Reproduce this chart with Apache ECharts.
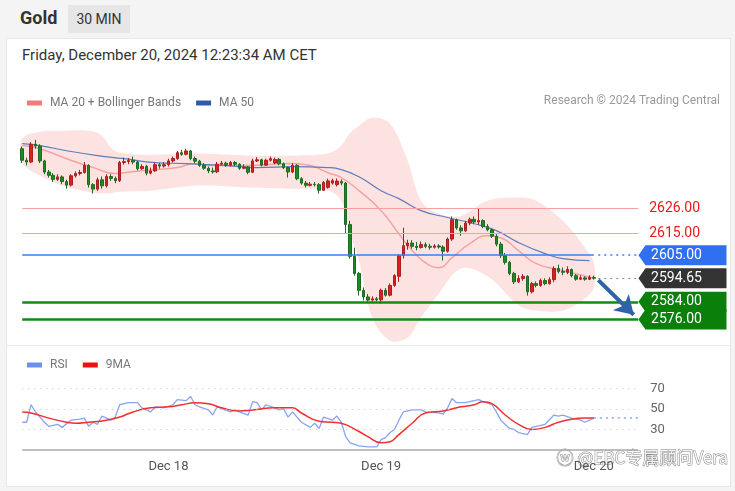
<!DOCTYPE html>
<html>
<head>
<meta charset="utf-8">
<script src="https://cdn.jsdelivr.net/npm/echarts@6.0.0/dist/echarts.min.js"></script>
<style>
body { margin: 0; background: #f4f4f4; font-family: Roboto, "Liberation Sans", sans-serif; }
#wrap { position: relative; width: 735px; height: 491px; overflow: hidden; }
.title { position: absolute; left: 20px; top: 7px; font-size: 18px; font-weight: bold; color: #333; }
.tf { position: absolute; left: 68px; top: 5px; width: 62px; height: 28px; line-height: 28px; text-align: center; background: #e6e6e6; font-size: 14px; color: #333; }
.card { position: absolute; left: 6px; top: 38px; width: 723px; height: 447px; background: #fff; border: 1px solid #e8e8e8; }
.date { position: absolute; left: 22px; top: 46px; font-size: 15px; color: #333; }
.sep { position: absolute; left: 7px; top: 345px; width: 723px; height: 1px; background: #eaeaea; }
#chart { position: absolute; left: 0; top: 0; width: 735px; height: 491px; }
</style>
</head>
<body>
<div id="wrap">
  <div class="title">Gold</div>
  <div class="tf">30 MIN</div>
  <div class="card"></div>
  <div class="date">Friday, December 20, 2024 12:23:34 AM CET</div>
  <div class="sep"></div>
  <div id="chart"></div>
</div>
<script>
// 30 min candles, Dec 17 07:30 .. Dec 20 00:00, plus empty room on the right
const categories = Array.from({ length: 160 }, (_, i) => i)
const tickIdx = [33, 81, 129]
const tickText = ['Dec 18', 'Dec 19', 'Dec 20']

const opens = [
  2653.0, 2647.8, 2647.0, 2655.0, 2654.2, 2647.5, 2642.5, 2641.0, 2639.2, 2640.3,
  2638.2, 2636.6, 2640.8, 2641.8, 2642.3, 2645.5, 2636.8, 2634.8, 2639.0, 2636.3,
  2640.5, 2639.6, 2638.6, 2646.8, 2647.2, 2647.8, 2647.0, 2644.0, 2645.0, 2642.0,
  2643.0, 2645.8, 2645.2, 2645.8, 2647.5, 2648.6, 2651.2, 2650.5, 2652.0, 2648.6,
  2647.4, 2645.5, 2644.2, 2643.0, 2642.6, 2646.0, 2646.5, 2645.6, 2646.8, 2646.0,
  2644.2, 2644.8, 2642.4, 2647.5, 2648.0, 2645.6, 2647.8, 2646.6, 2648.2, 2646.2,
  2644.5, 2642.5, 2645.5, 2639.5, 2637.5, 2636.5, 2637.0, 2636.8, 2634.3, 2635.6,
  2637.5, 2636.8, 2638.2, 2637.5, 2618.8, 2604.5, 2596.8, 2589.2, 2586.2, 2584.8,
  2585.4, 2584.9, 2589.2, 2587.0, 2591.4, 2595.5, 2604.8, 2609.3, 2610.5, 2609.0,
  2608.5, 2609.8, 2609.0, 2608.6, 2609.2, 2608.7, 2606.8, 2612.3, 2621.0, 2617.3,
  2616.0, 2619.5, 2621.2, 2620.0, 2620.6, 2618.0, 2616.5, 2613.6, 2610.0, 2604.8,
  2601.8, 2596.8, 2593.0, 2594.5, 2595.5, 2588.5, 2592.2, 2591.4, 2593.6, 2592.2,
  2594.0, 2599.0, 2597.7, 2597.3, 2598.6, 2595.8, 2594.2, 2594.8, 2594.2, 2595.0
]
const closes = [
  2647.8, 2647.0, 2655.0, 2654.2, 2647.5, 2642.5, 2641.0, 2639.2, 2640.3, 2638.2,
  2636.6, 2640.8, 2641.8, 2642.3, 2645.5, 2636.8, 2634.8, 2639.0, 2636.3, 2640.5,
  2639.6, 2638.6, 2646.8, 2647.2, 2647.8, 2647.0, 2644.0, 2645.0, 2642.0, 2643.0,
  2645.8, 2645.2, 2645.8, 2647.5, 2648.6, 2651.2, 2650.5, 2652.0, 2648.6, 2647.4,
  2645.5, 2644.2, 2643.0, 2642.6, 2646.0, 2646.5, 2645.6, 2646.8, 2646.0, 2644.2,
  2644.8, 2642.4, 2647.5, 2648.0, 2645.6, 2647.8, 2648.5, 2648.2, 2646.2, 2644.5,
  2642.5, 2645.5, 2639.5, 2637.5, 2636.5, 2637.0, 2636.8, 2634.3, 2637.8, 2638.5,
  2638.6, 2638.4, 2637.5, 2618.8, 2604.5, 2596.8, 2589.2, 2586.2, 2584.8, 2585.4,
  2584.9, 2589.2, 2587.0, 2591.4, 2595.8, 2604.8, 2609.3, 2610.5, 2609.0, 2608.5,
  2609.8, 2609.0, 2608.6, 2609.2, 2608.7, 2606.8, 2612.3, 2621.0, 2617.3, 2616.0,
  2619.5, 2621.2, 2620.0, 2620.6, 2618.0, 2616.5, 2613.6, 2610.0, 2604.8, 2601.8,
  2596.8, 2593.0, 2594.5, 2595.5, 2588.5, 2592.2, 2591.4, 2593.6, 2592.2, 2594.0,
  2599.0, 2597.7, 2597.3, 2598.6, 2595.8, 2594.2, 2594.8, 2594.2, 2595.0, 2594.65
]
const lows = [
  2646.5, 2645.5, 2646.5, 2653.0, 2646.5, 2641.5, 2640.0, 2638.0, 2638.5, 2637.0,
  2635.0, 2636.0, 2640.0, 2641.0, 2641.8, 2635.5, 2632.8, 2634.0, 2635.0, 2635.5,
  2638.5, 2637.5, 2638.0, 2645.8, 2646.0, 2646.0, 2643.2, 2643.5, 2641.0, 2641.5,
  2642.5, 2644.0, 2644.5, 2645.0, 2646.8, 2648.0, 2649.8, 2650.0, 2647.8, 2646.5,
  2644.8, 2643.5, 2642.0, 2641.8, 2642.0, 2645.5, 2644.8, 2645.0, 2645.2, 2643.5,
  2643.8, 2641.5, 2642.0, 2647.0, 2645.0, 2645.2, 2647.2, 2646.0, 2645.5, 2643.8,
  2640.0, 2642.0, 2638.8, 2636.8, 2635.5, 2636.0, 2636.0, 2632.8, 2634.0, 2635.0,
  2636.8, 2636.0, 2636.5, 2614.7, 2603.5, 2595.8, 2586.8, 2584.6, 2583.6, 2584.0,
  2584.2, 2583.2, 2586.4, 2586.5, 2590.8, 2593.0, 2603.5, 2607.5, 2608.0, 2607.2,
  2608.0, 2608.2, 2607.5, 2608.0, 2608.0, 2602.6, 2606.2, 2611.5, 2616.5, 2613.8,
  2615.5, 2618.5, 2619.0, 2618.8, 2617.2, 2615.8, 2612.8, 2609.0, 2603.8, 2600.8,
  2596.0, 2592.0, 2592.5, 2593.5, 2586.8, 2587.8, 2590.5, 2590.8, 2591.5, 2591.8,
  2592.8, 2596.8, 2596.0, 2596.5, 2595.0, 2593.5, 2593.8, 2593.5, 2593.8, 2594.0
]
const highs = [
  2654.0, 2649.0, 2656.0, 2657.0, 2655.0, 2648.0, 2643.5, 2642.0, 2641.5, 2641.0,
  2639.0, 2641.5, 2642.8, 2643.5, 2647.0, 2646.0, 2637.5, 2640.0, 2640.5, 2641.5,
  2641.5, 2640.5, 2647.5, 2649.0, 2648.8, 2649.5, 2647.5, 2646.0, 2645.8, 2644.5,
  2646.8, 2646.5, 2647.0, 2648.5, 2649.5, 2652.0, 2652.5, 2653.0, 2652.5, 2649.5,
  2648.0, 2646.5, 2645.0, 2644.5, 2647.0, 2647.5, 2647.2, 2647.5, 2647.5, 2646.5,
  2646.0, 2645.2, 2648.5, 2649.2, 2648.5, 2648.5, 2649.5, 2649.0, 2648.8, 2646.8,
  2645.0, 2646.5, 2646.0, 2640.2, 2638.5, 2638.0, 2638.0, 2637.5, 2638.5, 2639.5,
  2639.5, 2639.6, 2639.2, 2638.0, 2620.5, 2608.4, 2597.5, 2590.5, 2587.5, 2586.5,
  2586.2, 2590.0, 2590.2, 2592.3, 2596.5, 2605.5, 2617.4, 2612.0, 2611.8, 2611.0,
  2611.2, 2610.8, 2610.2, 2610.0, 2610.0, 2609.5, 2613.0, 2622.5, 2621.5, 2618.5,
  2620.5, 2622.0, 2622.5, 2626.2, 2621.2, 2619.0, 2617.2, 2614.5, 2611.0, 2606.0,
  2602.5, 2597.5, 2596.0, 2596.5, 2596.0, 2593.0, 2593.2, 2594.5, 2594.6, 2595.0,
  2600.0, 2600.8, 2599.5, 2600.0, 2599.0, 2596.5, 2596.0, 2595.5, 2596.0, 2595.8
]

// MA 20, Bollinger Bands and MA 50, read at a few candles
const ma20Idx = [0, 4, 10, 16, 21, 23, 27, 35, 39, 42, 50, 61, 65, 69, 72, 76, 81, 85, 88, 92, 94, 97, 101, 105, 108, 112, 116, 122, 129]
const ma20 = [2654.4, 2653.0, 2648.5, 2644.5, 2641.8, 2642.2, 2643.1, 2644.5, 2646.3, 2645.4, 2645.4, 2646.3, 2645.4, 2642.2, 2640.0, 2634.1, 2625.1, 2614.7, 2607.1, 2600.3, 2599.4, 2603.9, 2610.2, 2613.8, 2612.9, 2607.1, 2601.2, 2598.1, 2594.6]
const bandIdx = [0, 4, 9, 15, 18, 20, 22, 29, 40, 51, 60, 69, 72, 74, 76, 79, 83, 87, 90, 94, 99, 105, 112, 116, 122, 127, 129]
const bandUp = [2657.5, 2660.7, 2661.1, 2661.1, 2658.9, 2653.5, 2651.2, 2650.3, 2650.8, 2649.9, 2649.9, 2650.8, 2654.4, 2660.2, 2663.4, 2667.0, 2664.3, 2647.6, 2629.6, 2623.7, 2622.8, 2629.6, 2631.0, 2629.6, 2620.6, 2608.4, 2601.7]
const bandLow = [2646.7, 2640.9, 2636.4, 2633.5, 2632.8, 2633.0, 2633.6, 2634.1, 2636.4, 2635.5, 2635.0, 2634.1, 2629.6, 2615.0, 2602.6, 2576.9, 2566.5, 2567.9, 2576.9, 2587.7, 2599.0, 2595.5, 2582.5, 2580.1, 2580.1, 2585.5, 2590.4]
const ma50Idx = [0, 4, 10, 17, 23, 30, 37, 46, 53, 61, 69, 72, 76, 81, 85, 90, 96, 102, 107, 112, 118, 122, 128]
const ma50 = [2655.3, 2654.4, 2652.1, 2649.9, 2648.5, 2646.7, 2646.3, 2645.4, 2644.5, 2644.9, 2644.5, 2643.6, 2640.4, 2634.1, 2630.5, 2625.1, 2622.0, 2619.2, 2616.1, 2610.7, 2605.7, 2603.5, 2602.6]

// RSI panel
const rsiIdx = [0, 1, 2, 3, 5, 6, 8, 9, 11, 13, 14, 15, 16, 17, 18, 20, 21, 22, 24, 26, 27, 29, 30, 32, 34, 35, 37, 38, 39, 40, 42, 43, 44, 47, 48, 49, 51, 52, 53, 54, 55, 57, 58, 59, 60, 61, 63, 65, 66, 67, 68, 70, 71, 72, 73, 74, 76, 78, 80, 81, 82, 83, 84, 85, 86, 87, 88, 90, 91, 94, 95, 96, 97, 98, 100, 101, 103, 104, 106, 107, 108, 110, 111, 112, 114, 115, 117, 118, 120, 121, 122, 124, 126, 127, 129]
const rsiVal = [37, 37, 54, 47, 37, 33, 35, 32, 39, 40, 41, 33, 37, 35, 43, 39, 42, 54, 56, 56, 51, 47, 52, 51, 54, 59, 58, 62, 54, 52, 49, 44, 52, 47, 49, 47, 44, 57, 56, 49, 54, 51, 49, 50, 42, 47, 37, 32, 36, 31, 42, 39, 43, 37, 23, 17, 14, 13, 13, 20, 22, 27, 30, 39, 47, 48, 49, 49, 47, 46, 45, 51, 60, 56, 56, 57, 59, 57, 54, 47, 39, 31, 30, 27, 25, 32, 34, 35, 44, 43, 44, 41, 39, 37, 41]
const rsiMaIdx = [0, 2, 6, 10, 12, 15, 19, 22, 25, 29, 33, 36, 39, 42, 45, 49, 52, 57, 61, 63, 67, 70, 72, 76, 78, 81, 83, 85, 88, 91, 95, 99, 102, 104, 106, 109, 112, 115, 118, 121, 124, 127, 129]
const rsiMa = [47, 46, 41, 37, 36, 37, 39, 42, 47, 51, 52, 54, 56, 55, 51, 48, 49, 51, 51, 46, 38, 37, 36, 28, 23, 17, 18, 25, 36, 46, 48, 52, 54, 57, 55, 44, 35, 30, 32, 37, 40, 41, 41]
const rsiLevels = [70, 50, 30]

// drawn levels
const redLevels = [2626, 2615]
const blueLevel = 2605
const lastPrice = 2594.65
const greenLevels = [2584, 2576]
const lastIdx = 129
const lineEndIdx = 139
const tagIdx = 149
const arrowFrom = [130, 2593.8]
const arrowTo = [138, 2578.2]

const pairs = (idx, vals) => idx.map((x, k) => [x, vals[k]])
const tagPath = 'path://M0,10 L7,0 L88,0 L88,20 L7,20 Z'
const FONT = 'Roboto, "Liberation Sans", sans-serif'

const chart = echarts.init(document.getElementById('chart'))

const levelLines = [
  ...redLevels.map(v => [
    { coord: [0, v], lineStyle: { color: '#f7a0a0', width: 1, type: 'solid' },
      label: { show: true, position: 'end', distance: 11, formatter: v.toFixed(2), color: '#f01818', fontSize: 14, fontFamily: FONT } },
    { coord: [lineEndIdx, v] }
  ]),
  [
    { coord: [0, blueLevel], lineStyle: { color: '#3b7cf5', width: 1.6, type: 'solid', opacity: 1 }, label: { show: false } },
    { coord: [lastIdx, blueLevel] }
  ],
  [
    { coord: [lastIdx + 1, blueLevel], lineStyle: { color: '#3b7cf5', width: 1.5, type: [2, 4] }, label: { show: false } },
    { coord: [lineEndIdx, blueLevel] }
  ],
  [
    { coord: [lastIdx + 1, lastPrice], lineStyle: { color: '#888', width: 1.2, type: [2, 4] }, label: { show: false } },
    { coord: [lineEndIdx, lastPrice] }
  ],
  ...greenLevels.map(v => [
    { coord: [0, v], lineStyle: { color: '#138a13', width: 2.5, type: 'solid' }, label: { show: false } },
    { coord: [lineEndIdx, v] }
  ]),
  [
    { coord: arrowFrom, symbol: 'none', lineStyle: { color: '#2f63a8', width: 4, type: 'solid' }, label: { show: false } },
    { coord: arrowTo, symbol: 'arrow', symbolSize: [17, 18] }
  ]
]

const tags = [
  { value: blueLevel, color: '#2f6ff0' },
  { value: lastPrice, color: '#333333' },
  { value: greenLevels[0], color: '#0a800a' },
  { value: greenLevels[1], color: '#0a800a' }
].map(t => ({
  coord: [tagIdx, t.value],
  symbol: tagPath,
  symbolSize: [88, 20],
  itemStyle: { color: t.color },
  label: { show: true, formatter: t.value.toFixed(2), color: '#fff', fontSize: 14, fontFamily: FONT, offset: [-6, 0] }
}))

chart.setOption({
  animation: false,
  textStyle: { fontFamily: FONT },
  legend: [
    {
      left: 22, top: 92, itemWidth: 15, itemHeight: 5, itemGap: 15, icon: 'rect',
      textStyle: { color: '#777', fontSize: 12, padding: [0, 0, 0, 3] },
      data: [
        { name: 'MA 20 + Bollinger Bands', itemStyle: { color: '#f47a7a' } },
        { name: 'MA 50', itemStyle: { color: '#2f5aa8' } }
      ]
    },
    {
      left: 22, top: 354, itemWidth: 15, itemHeight: 5, itemGap: 15, icon: 'rect',
      textStyle: { color: '#777', fontSize: 12, padding: [0, 0, 0, 3] },
      data: [
        { name: 'RSI', itemStyle: { color: '#6d8ff0' } },
        { name: '9MA', itemStyle: { color: '#f01010' } }
      ]
    }
  ],
  graphic: [
    { type: 'text', right: 15, top: 95, style: { text: 'Research © 2024 Trading Central', fill: '#9a9a9a', font: '12px ' + FONT } },
    { type: 'text', left: 556, top: 449, style: { text: 'ⓦ @EBC专属顾问Vera', fill: 'rgba(255,255,255,0.9)', stroke: 'rgba(70,70,70,0.65)', lineWidth: 1, font: '17px "Noto Sans CJK SC", sans-serif' } }
  ],
  grid: [
    { left: 20, width: 709, top: 111, height: 233 },
    { left: 20, width: 709, top: 378, height: 72 }
  ],
  xAxis: [
    { type: 'category', data: categories, gridIndex: 0, show: false },
    {
      type: 'category', data: categories, gridIndex: 1,
      axisLine: { show: false }, axisTick: { show: false },
      axisLabel: {
        interval: (i) => tickIdx.includes(i),
        formatter: (v, i) => tickText[tickIdx.indexOf(i)],
        color: '#555', fontSize: 13, margin: 10
      }
    }
  ],
  yAxis: [
    { type: 'value', gridIndex: 0, min: 2565, max: 2670, show: false },
    { type: 'value', gridIndex: 1, min: 10, max: 80, show: false }
  ],
  series: [
    {
      name: 'Bollinger',
      type: 'custom',
      xAxisIndex: 0, yAxisIndex: 0,
      silent: true,
      z: 1,
      data: [[0, bandUp[0]]],
      renderItem: (params, api) => {
        const top = bandIdx.map((x, k) => api.coord([x, bandUp[k]]))
        const bottom = bandIdx.map((x, k) => api.coord([x, bandLow[k]])).reverse()
        return {
          type: 'polygon',
          shape: { points: top.concat(bottom), smooth: 0.35 },
          style: { fill: 'rgba(250, 160, 160, 0.3)' }
        }
      }
    },
    {
      name: 'MA 20 + Bollinger Bands',
      type: 'line', xAxisIndex: 0, yAxisIndex: 0, z: 2,
      data: pairs(ma20Idx, ma20), smooth: true, showSymbol: false,
      lineStyle: { color: '#f5a3a3', width: 1.5 }
    },
    {
      name: 'MA 50',
      type: 'line', xAxisIndex: 0, yAxisIndex: 0, z: 2,
      data: pairs(ma50Idx, ma50), smooth: true, showSymbol: false,
      lineStyle: { color: '#5f7cbc', width: 1.2 }
    },
    {
      name: 'Gold',
      type: 'candlestick', xAxisIndex: 0, yAxisIndex: 0, z: 3,
      barWidth: 3,
      data: opens.map((o, i) => [o, closes[i], lows[i], highs[i]]),
      itemStyle: { color: '#dc1f1f', color0: '#1d8a22', borderColor: '#a82020', borderColor0: '#1d6a22', borderWidth: 1 },
      markLine: { silent: true, symbol: ['none', 'none'], animation: false, data: levelLines },
      markPoint: { silent: true, animation: false, data: tags }
    },
    {
      name: 'RSI',
      type: 'line', xAxisIndex: 1, yAxisIndex: 1,
      data: pairs(rsiIdx, rsiVal), showSymbol: false,
      lineStyle: { color: '#89a4f2', width: 1.3 },
      markLine: {
        silent: true, symbol: ['none', 'none'], animation: false,
        data: [
          ...rsiLevels.map(v => [
            { coord: [0, v], lineStyle: { color: '#c4c4c4', width: 1.2, type: [1, 5] },
              label: { show: true, position: 'end', distance: 12, formatter: String(v), color: '#666', fontSize: 13, fontFamily: FONT } },
            { coord: [lineEndIdx, v] }
          ]),
          [
            { coord: [0, 10], lineStyle: { color: '#aaa', width: 1.5, type: 'solid' }, label: { show: false } },
            { coord: [lineEndIdx, 10] }
          ],
          [
            { coord: [lastIdx, rsiVal[rsiVal.length - 1]], lineStyle: { color: '#89a4f2', width: 1.5, type: [2, 4] }, label: { show: false } },
            { coord: [lineEndIdx, rsiVal[rsiVal.length - 1]] }
          ]
        ]
      }
    },
    {
      name: '9MA',
      type: 'line', xAxisIndex: 1, yAxisIndex: 1,
      data: pairs(rsiMaIdx, rsiMa), smooth: true, showSymbol: false,
      lineStyle: { color: '#f03030', width: 1.5 }
    }
  ]
})
</script>
</body>
</html>
